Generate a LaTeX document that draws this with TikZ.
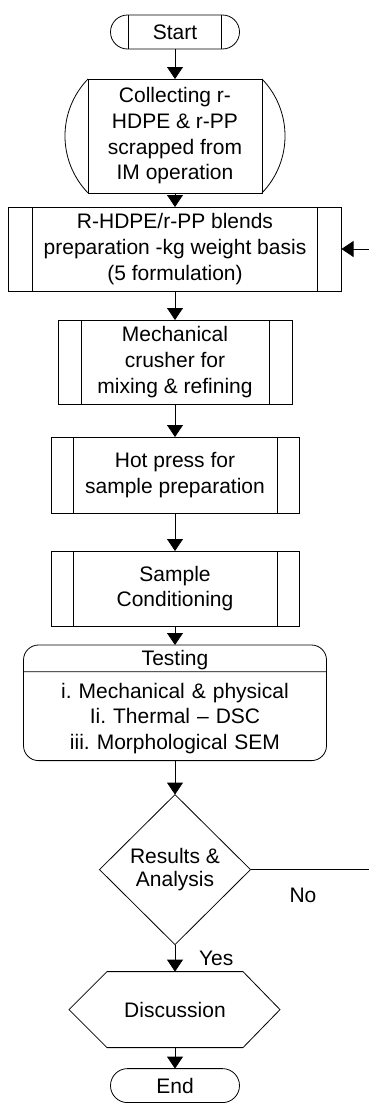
\documentclass[tikz,border=0pt]{standalone}
\usepackage{fontspec}
\setmainfont{Liberation Sans}
\usetikzlibrary{positioning,shapes.geometric,shapes.multipart,arrows.meta}
\frenchspacing

\begin{document}
\begin{tikzpicture}[x=1pt,y=1pt,line width=0.8pt,
   every node/.style={font=\fontsize{21}{25.7}\selectfont,outer sep=0pt},
   proc/.style={draw,align=center,inner sep=2pt,
     path picture={\draw ([xshift=#1]path picture bounding box.north west) -- ([xshift=#1]path picture bounding box.south west)
                         ([xshift=-#1]path picture bounding box.north east) -- ([xshift=-#1]path picture bounding box.south east);}},
   arr/.style={-{Triangle[length=12pt,width=16pt]}},
   lbl/.style={inner sep=0pt}]

\useasboundingbox (0,0) rectangle (369,-1103);

\node[proc=18pt, rounded corners=17pt, minimum width=129pt, minimum height=34pt] (start) at (175,-32) {Start};
\node[draw, align=center, minimum width=174pt, minimum height=114pt, below=30pt of start] (coll)
   {Collecting r-\\HDPE \& r-PP\\scrapped from\\IM operation};
% curved sides of the stored data box
\draw (coll.north west) arc[start angle=136, end angle=224, radius=82pt];
\draw (coll.north east) arc[start angle=44, end angle=-44, radius=82pt];

\node[proc=24pt, minimum width=333pt, minimum height=84pt, below=14pt of coll] (blend)
   {R-HDPE/r-PP blends\\preparation -kg weight basis\\(5 formulation)};
\node[proc=23pt, minimum width=234pt, minimum height=84pt, below=29pt of blend] (mech)
   {Mechanical\\crusher for\\mixing \& refining};
\node[proc=22pt, minimum width=248pt, minimum height=76pt, below=33pt of mech] (hot)
   {Hot press for\\sample preparation};
\node[proc=22pt, minimum width=248pt, minimum height=75pt, below=38pt of hot] (cond)
   {Sample\\Conditioning};

\node[draw, rounded corners=15pt, rectangle split, rectangle split parts=2, text width=303pt, align=center,
      inner xsep=0pt, inner ysep=0pt, below=19pt of cond] (test)
   {\rule[-5.5pt]{0pt}{26pt}Testing
    \nodepart{two}\rule{0pt}{25.8pt}i. Mechanical \& physical\\
    Ii. Thermal -- DSC\\
    iii. Morphological SEM\rule[-10.8pt]{0pt}{10.8pt}};

\node[diamond, draw, minimum width=151pt, minimum height=150pt, inner sep=0pt, align=center,
      font=\fontsize{21}{23}\selectfont, below=34pt of test] (dec) {Results \&\\Analysis};

\node[minimum width=136pt, minimum height=76pt, below=27pt of dec] (disc) {Discussion};
\draw (disc.north west) -- (disc.north east) -- ++(37,-38) -- (disc.south east)
   -- (disc.south west) -- ++(-38,38) -- cycle;

\node[draw, rounded corners=17pt, minimum width=129pt, minimum height=34pt, below=21pt of disc] (stop) {End};

\draw[arr] (start) -- (coll);
\draw[arr] (coll) -- (blend);
\draw[arr] (blend) -- (mech);
\draw[arr] (mech) -- (hot);
\draw[arr] (hot) -- (cond);
\draw[arr] (cond) -- (test);
\draw[arr] (test) -- (dec);
\draw[arr] (dec) -- node[lbl, right=24pt] (yes) {Yes} (disc);
\draw[arr] (disc) -- (stop);
% loop back, runs past the right edge
\draw[arr] (dec.east) -- node[lbl, pos=0.35, below=18pt] (no) {No} ++(150,0) |- (blend.east);

\end{tikzpicture}
\end{document}
